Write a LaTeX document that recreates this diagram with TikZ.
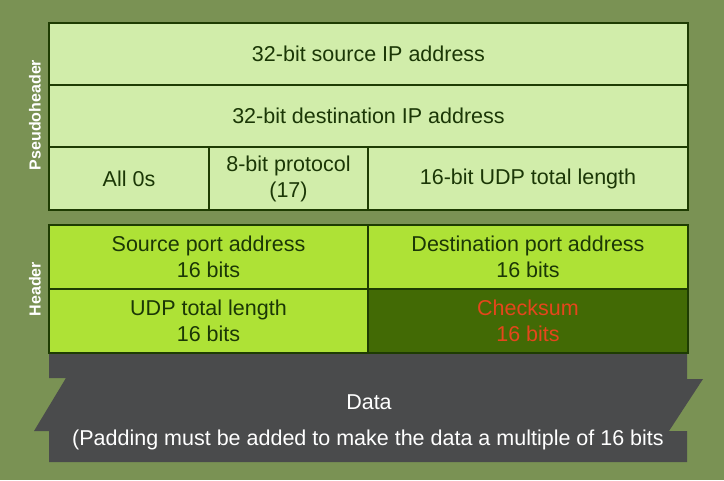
\documentclass[tikz,border=0pt]{standalone}
\usepackage{fontspec}
\setmainfont{Liberation Sans}
\definecolor{bg}{HTML}{7A9254}
\definecolor{pseudo}{HTML}{D1EDAA}
\definecolor{hdr}{HTML}{AEE236}
\definecolor{csumfill}{HTML}{426A05}
\definecolor{edge}{HTML}{1E3C02}
\definecolor{txt}{HTML}{1B3706}
\definecolor{redtxt}{HTML}{E5461C}
\definecolor{datafill}{HTML}{4A4B4C}
\tikzset{
  cell/.style={draw=edge, line width=1.6pt, inner sep=0pt, outer sep=0pt,
    text=txt, align=center, font=\fontsize{21.5}{26}\selectfont},
  pcell/.style={cell, fill=pseudo},
  hcell/.style={cell, fill=hdr},
  side/.style={rotate=90, text=white, font=\bfseries\fontsize{16}{19}\selectfont},
  datatext/.style={text=white, font=\fontsize{21.5}{26}\selectfont}
}
\begin{document}
\begin{tikzpicture}[x=1pt,y=-1pt]
\useasboundingbox (0,0) rectangle (724,480);
\fill[bg] (0,0) rectangle (724,480);
% data ribbon
\fill[datafill] (49,353) -- (687,353) -- (687,379) -- (703,379) -- (669,431) -- (687,431)
  -- (687,462) -- (49,462) -- (49,431) -- (34,431) -- (66,378) -- (49,378) -- cycle;
\node[datatext] (data) at (369,402) {Data};
\node[datatext] (pad) at (368,440) {(Padding must be added to make the data a multiple of 16 bits};
% pseudoheader
\node[pcell, minimum width=639pt, minimum height=62pt] (src) at (368.5,54) {32-bit source IP address};
\node[pcell, minimum width=639pt, minimum height=62pt] (dst) at (368.5,116) {32-bit destination IP address};
\node[pcell, minimum width=160pt, minimum height=63pt] (zeros) at (129,178.5) {All 0s};
\node[pcell, minimum width=159pt, minimum height=63pt] (proto) at (288.5,178.5) {8-bit protocol\\(17)};
\node[pcell, minimum width=320pt, minimum height=63pt] (len) at (528,178.5) {16-bit UDP total length};
% header
\node[hcell, minimum width=319pt, minimum height=64pt] (sport) at (208.5,257) {Source port address\\16 bits};
\node[hcell, minimum width=320pt, minimum height=64pt] (dport) at (528,257) {Destination port address\\16 bits};
\node[hcell, minimum width=319pt, minimum height=64pt] (ulen) at (208.5,321) {UDP total length\\16 bits};
\node[cell, fill=csumfill, text=redtxt, minimum width=320pt, minimum height=64pt] (csum) at (528,321) {Checksum\\16 bits};
% side labels
\node[side] (plabel) at (35,115) {Pseudoheader};
\node[side] (hlabel) at (35,289) {Header};
\end{tikzpicture}
\end{document}
